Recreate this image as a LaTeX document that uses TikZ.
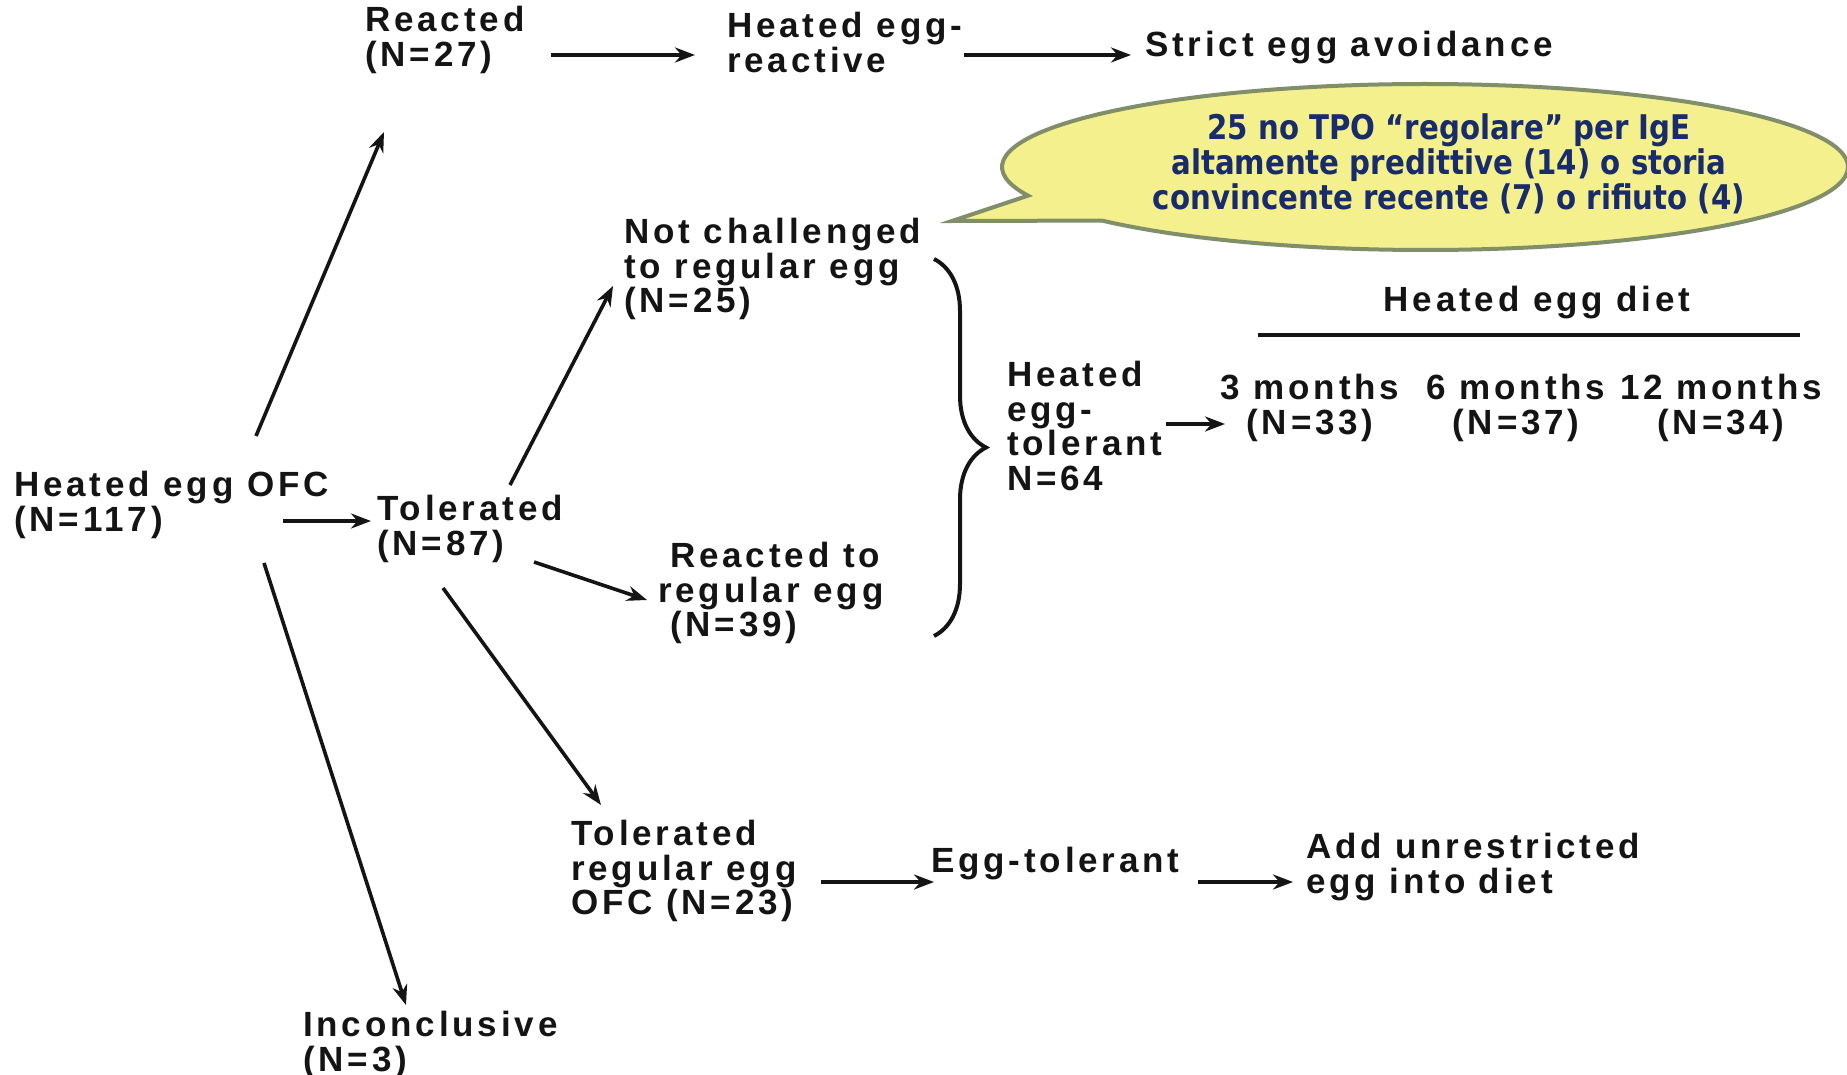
\documentclass[tikz,border=0pt]{standalone}
\usepackage{fontspec}
\setmainfont{Liberation Sans}
\newfontfamily\flowfont{Liberation Sans}[LetterSpace=11]
\newfontfamily\notefont{DejaVu Sans}[FakeStretch=0.86]
\usetikzlibrary{arrows.meta,shapes.callouts,decorations.pathreplacing}

\definecolor{ink}{RGB}{20,20,20}
\definecolor{navy}{RGB}{24,44,108}
\definecolor{bubblefill}{RGB}{244,240,142}
\definecolor{bubbleline}{RGB}{128,142,106}

\begin{document}
\begin{tikzpicture}[x=1pt,y=-1pt,
  lbl/.style={inner sep=0pt, anchor=north west, align=left, text=ink,
    font=\flowfont\bfseries\fontsize{35}{34.5}\selectfont},
  clbl/.style={lbl, anchor=north, align=center},
  arr/.style={draw=ink, line width=3.6pt, -{Stealth[length=20pt,width=15pt]}},
  bracestyle/.style={draw=ink, line width=4pt,
    decorate, decoration={brace, amplitude=52pt}},
  bubble/.style={ellipse callout, draw=bubbleline, fill=bubblefill,
    line width=4pt, inner sep=0pt, minimum width=846pt, minimum height=166pt,
    callout pointer arc=20},
  notetxt/.style={inner sep=0pt, align=center, text=navy,
    font=\notefont\bfseries\fontsize{34}{35}\selectfont}]

% page
\fill[white] (0,0) rectangle (1847,1075);
\useasboundingbox (0,0) rectangle (1847,1075);

% speech bubble
\node[bubble, callout absolute pointer={(952,221)}] (note) at (1425,167) {};
\node[notetxt] (notetext) at (1449,164)
  {25 no TPO “regolare” per IgE\\altamente predittive (14) o storia\\convincente recente (7) o rifiuto (4)};

% outcome labels
\node[lbl] (reacted) at (365,6)   {Reacted\\(N=27)};
\node[lbl] (hreact)  at (727,12)  {Heated egg-\\reactive};
\node[lbl] (avoid)   at (1145,31) {Strict egg avoidance};
\node[lbl] (ofc)     at (14,471)  {Heated egg OFC\\(N=117)};
\node[lbl] (tol)     at (377,495) {Tolerated\\(N=87)};
\node[lbl] (notch)   at (624,218) {Not challenged\\to regular egg\\(N=25)};
\node[lbl] (regr)    at (658,542) {\hspace*{12pt}Reacted to\\regular egg\\\hspace*{12pt}(N=39)};
\node[lbl] (tolreg)  at (571,820) {Tolerated\\regular egg\\OFC (N=23)};
\node[lbl] (eggtol)  at (931,847) {Egg-tolerant};
\node[lbl] (addegg)  at (1306,833) {Add unrestricted\\egg into diet};
\node[lbl] (hetol)   at (1007,361) {Heated\\egg-\\tolerant\\N=64};
\node[lbl] (inconc)  at (303,1011) {Inconclusive\\(N=3)};

% heated egg diet follow-up
\node[clbl] (diet) at (1537,286) {Heated egg diet};
\node[clbl] (m3)   at (1310,374) {3 months\\(N=33)};
\node[clbl] (m6)   at (1516,374) {6 months\\(N=37)};
\node[clbl] (m12)  at (1721,374) {12 months\\(N=34)};
\coordinate (rulel) at (1258,335);
\coordinate (ruler) at (1800,335);
\draw[draw=ink, line width=4pt] (rulel) -- (ruler);

% arrow end points
\coordinate (a1s) at (256,436);  \coordinate (a1e) at (384,132);
\coordinate (a2s) at (551,55);   \coordinate (a2e) at (695,55);
\coordinate (a3s) at (964,55);   \coordinate (a3e) at (1131,55);
\coordinate (a4s) at (283,521);  \coordinate (a4e) at (371,521);
\coordinate (a5s) at (264,563);  \coordinate (a5e) at (406,1005);
\coordinate (a6s) at (510,485);  \coordinate (a6e) at (613,286);
\coordinate (a7s) at (534,562);  \coordinate (a7e) at (647,600);
\coordinate (a8s) at (443,588);  \coordinate (a8e) at (601,805);
\coordinate (a9s) at (821,882);  \coordinate (a9e) at (934,882);
\coordinate (a10s) at (1198,882); \coordinate (a10e) at (1293,882);
\coordinate (a11s) at (1166,424); \coordinate (a11e) at (1225,424);

\draw[arr] (a1s) -- (a1e);
\draw[arr] (a2s) -- (a2e);
\draw[arr] (a3s) -- (a3e);
\draw[arr] (a4s) -- (a4e);
\draw[arr] (a5s) -- (a5e);
\draw[arr] (a6s) -- (a6e);
\draw[arr] (a7s) -- (a7e);
\draw[arr] (a8s) -- (a8e);
\draw[arr] (a9s) -- (a9e);
\draw[arr] (a10s) -- (a10e);
\draw[arr] (a11s) -- (a11e);

% brace gathering the two regular-egg branches
\coordinate (bracetop) at (934,259);
\coordinate (bracebot) at (934,636);
\draw[bracestyle] (bracetop) -- (bracebot);
\end{tikzpicture}
\end{document}
